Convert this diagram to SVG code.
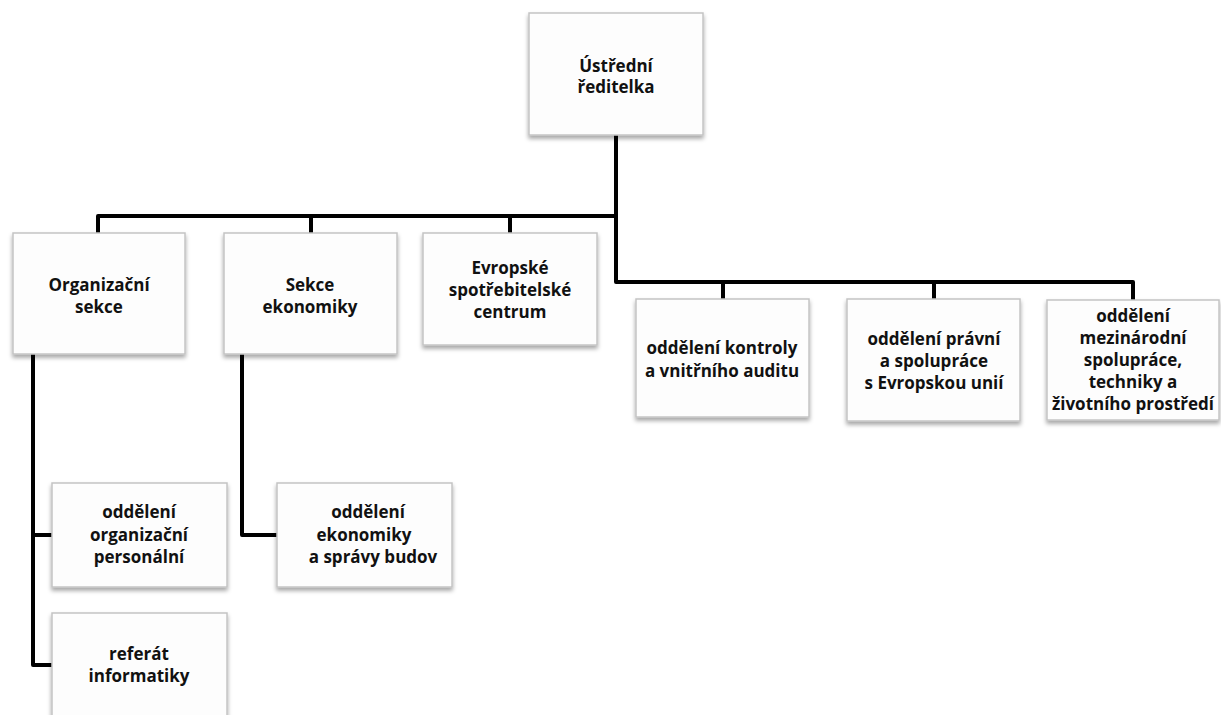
<svg xmlns="http://www.w3.org/2000/svg" width="1221" height="715" viewBox="0 0 1221 715">
<defs>
<filter id="sh" x="-10%" y="-10%" width="120%" height="130%">
<feDropShadow dx="0" dy="3" stdDeviation="2" flood-color="#000" flood-opacity="0.35"/>
</filter>
<style>
.box{fill:#fdfdfd;stroke:#c4c4c4;stroke-width:1.5;filter:url(#sh)}
.t{font-family:"Open Sans","Liberation Sans",sans-serif;font-weight:bold;font-size:17px;fill:#111;text-anchor:middle}
.c{fill:none;stroke:#000;stroke-width:4;stroke-linejoin:round}
</style>
</defs>
<rect width="1221" height="715" fill="#fff"/>
<g id="connectors">
<path class="c" d="M616 135 V282 H1133 V300"/>
<path class="c" d="M98 233 V216 H616"/>
<path class="c" d="M311 216 V233"/>
<path class="c" d="M510 216 V233"/>
<path class="c" d="M723 282 V299"/>
<path class="c" d="M934 282 V299"/>
<path class="c" d="M33 354 V665 H52"/>
<path class="c" d="M33 535 H52"/>
<path class="c" d="M242 354 V535 H277"/>
</g>
<g id="n-reditelka">
<rect class="box" x="529" y="13" width="174" height="122"/>
<text class="t" x="616" y="72">Ústřední</text>
<text class="t" x="616" y="93">ředitelka</text>
</g>
<g id="n-organizacni">
<rect class="box" x="13" y="233" width="172" height="121"/>
<text class="t" x="99" y="291">Organizační</text>
<text class="t" x="99" y="313">sekce</text>
</g>
<g id="n-ekonomiky">
<rect class="box" x="224" y="233" width="173" height="121"/>
<text class="t" x="310" y="291">Sekce</text>
<text class="t" x="310" y="313">ekonomiky</text>
</g>
<g id="n-evropske">
<rect class="box" x="423" y="233" width="174" height="112"/>
<text class="t" x="510" y="274">Evropské</text>
<text class="t" x="510" y="296">spotřebitelské</text>
<text class="t" x="510" y="318">centrum</text>
</g>
<g id="n-kontroly">
<rect class="box" x="636" y="299" width="173" height="118"/>
<text class="t" x="722" y="354">oddělení kontroly</text>
<text class="t" x="722" y="377">a vnitřního auditu</text>
</g>
<g id="n-pravni">
<rect class="box" x="847" y="299" width="173" height="122"/>
<text class="t" x="934" y="345">oddělení právní</text>
<text class="t" x="934" y="367">a spolupráce</text>
<text class="t" x="934" y="389">s Evropskou unií</text>
</g>
<g id="n-mezinarodni">
<rect class="box" x="1047" y="300" width="172" height="120"/>
<text class="t" x="1133" y="322">oddělení</text>
<text class="t" x="1133" y="344">mezinárodní</text>
<text class="t" x="1133" y="366">spolupráce,</text>
<text class="t" x="1133" y="388">techniky a</text>
<text class="t" x="1133" y="410">životního prostředí</text>
</g>
<g id="n-personalni">
<rect class="box" x="52" y="483" width="175" height="104"/>
<text class="t" x="139" y="518">oddělení</text>
<text class="t" x="139" y="541">organizační</text>
<text class="t" x="139" y="563">personální</text>
</g>
<g id="n-budov">
<rect class="box" x="277" y="483" width="175" height="104"/>
<text class="t" x="368" y="518">oddělení</text>
<text class="t" x="364" y="541">ekonomiky</text>
<text class="t" x="373" y="563">a správy budov</text>
</g>
<g id="n-informatiky">
<rect class="box" x="52" y="613" width="175" height="110"/>
<text class="t" x="139" y="660">referát</text>
<text class="t" x="139" y="682">informatiky</text>
</g>
</svg>
